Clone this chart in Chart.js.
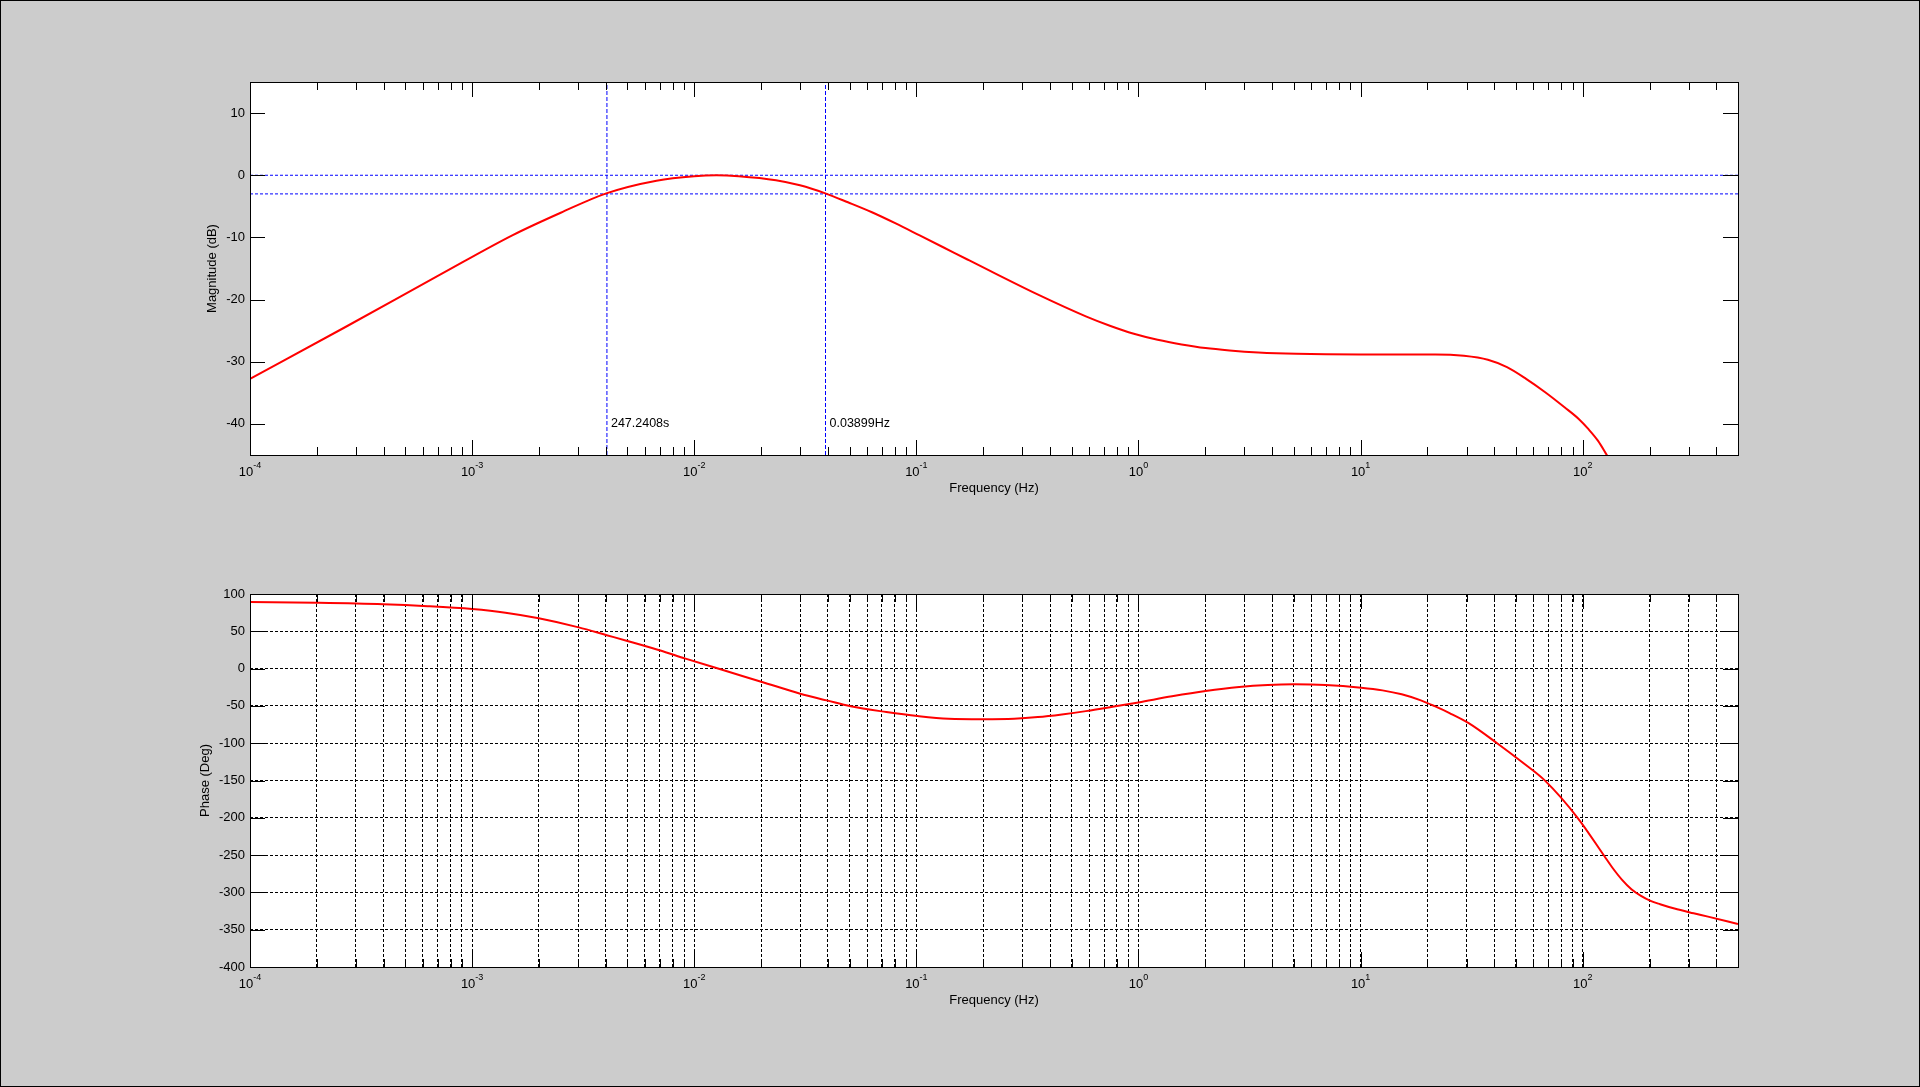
<!DOCTYPE html>
<html>
<head>
<meta charset="utf-8">
<title>Bode</title>
<script src="https://cdn.jsdelivr.net/npm/chart.js@4.4.1/dist/chart.umd.min.js"></script>
<style>
  html, body { margin: 0; padding: 0; background: #cccccc; }
  #fig { position: relative; width: 1920px; height: 1087px; overflow: hidden; }
  #fig canvas { position: absolute; left: 0; }
  #marco { position: absolute; left: 0; top: 0; width: 1920px; height: 1087px; box-sizing: border-box; border: 1px solid #000; pointer-events: none; }
</style>
</head>
<body>
<div id="fig">
  <canvas id="myChart" width="1920" height="540" style="top:0px"></canvas>
  <canvas id="myChart2" width="1920" height="547" style="top:540px"></canvas>
  <div id="marco"></div>
</div>
<script>
// datos
const freqMag = [0.0001, 0.000269, 0.000724, 0.001524, 0.002506, 0.004018, 0.006761, 0.01, 0.01259, 0.01585,
  0.02333, 0.02992, 0.0389, 0.0492, 0.0631, 0.08072, 0.1035, 0.1327, 0.1698, 0.2148, 0.3532, 0.5794, 0.743,
  0.9528, 1.219, 1.563, 2.004, 2.57, 3.459, 5.14, 10, 21.68, 29.17, 37.41, 45.6, 55.59, 67.76, 82.79, 95.94,
  105.9, 117, 129.1, 141.3];
const magDb = [-32.75, -24.41, -15.92, -9.63, -6.03, -2.91, -0.87, -0.15, 0.0, -0.15,
  -0.8, -1.62, -2.91, -4.35, -5.95, -7.75, -9.68, -11.62, -13.55, -15.38, -19.2, -22.69, -24.2,
  -25.49, -26.46, -27.21, -27.8, -28.18, -28.5, -28.72, -28.82, -28.82, -29.04, -29.68, -30.87, -32.75, -34.9, -37.32, -39.2,
  -40.81, -42.69, -45.16, -47.5];

const freqPhase = [0.0001, 0.0001995, 0.000398, 0.000631, 0.001, 0.001413, 0.001995, 0.00302,
  0.004036, 0.005047, 0.006966, 0.009141, 0.01324, 0.02018, 0.02999, 0.03945, 0.05058, 0.07328, 0.1012, 0.1396,
  0.1977, 0.2754, 0.3524, 0.4519, 0.5794, 0.7998, 1, 1.416, 2.004, 2.838, 3.819, 5.012, 6.934, 10.05, 12.55,
  15.31, 18.67, 21.67, 25.14, 30.66, 41.3, 52.9, 67.8, 95.0, 124.8, 135.8, 150.0, 165.6, 182.9, 202.0,
  223.0, 258.8, 315.6, 366.3, 500];
const phaseDeg = [89.3, 88.2, 86.2, 83.6, 79.8, 75.0, 67.5, 55.3,
  44.8, 36.7, 24.6, 13.4, -1.3, -17.9, -33.6, -42.6, -50.6, -58.2, -63.6, -67.2,
  -67.8, -67.2, -65.0, -61.4, -57.0, -50.2, -45.3, -37.2, -30.1, -24.7, -22.0, -21.1, -22.0, -25.6, -29.2,
  -34.5, -42.6, -50.7, -59.6, -73.1, -100.4, -124.6, -150.5, -200.3, -250.9, -266.6, -282.8, -295.7, -304.7, -311.4,
  -315.9, -321.7, -328.0, -332.5, -342.3];

const magTicks = [-40, -30, -20, -10, 0, 10];
const phaseTicks = [-400, -350, -300, -250, -200, -150, -100, -50, 0, 50, 100];
const decades = [-4, -3, -2, -1, 0, 1, 2];
const freqMin = 0.0001;
const freqMax = 500;

const cursorDb = [0, -3];
const cursorHz = [0.0040446, 0.03899];
const cursorText = ['247.2408s', '0.03899Hz'];
const cursorLabelDb = -40;

const fuente = "'Liberation Sans', Arial, sans-serif";

document.addEventListener('DOMContentLoaded', function() {
    const ctx = document.getElementById('myChart');
    const ctx2 = document.getElementById('myChart2');

    Chart.defaults.font.family = fuente;
    Chart.defaults.font.size = 13;
    Chart.defaults.color = '#000';

    function buildLogTicks(scale) {
        const ticks = [];
        decades.forEach(e => {
            for (let m = 1; m < 10; m++) {
                const v = m * Math.pow(10, e);
                if (v >= freqMin && v <= freqMax) ticks.push({ value: v, major: m === 1 });
            }
        });
        scale.ticks = ticks;
    }

    // fondo blanco, marco, ticks hacia dentro y etiquetas 10^n al estilo matlab
    const ejesPlugin = {
        id: 'ejes',
        beforeDraw(chart) {
            const a = chart.chartArea;
            chart.ctx.save();
            chart.ctx.fillStyle = '#ffffff';
            chart.ctx.fillRect(a.left, a.top, a.right - a.left, a.bottom - a.top);
            chart.ctx.restore();
        },
        afterDraw(chart) {
            const c = chart.ctx;
            const a = chart.chartArea;
            const sx = chart.scales.x;
            const sy = chart.scales.y;
            c.save();
            c.setLineDash([]);
            c.strokeStyle = '#000';
            c.lineWidth = 1;
            c.beginPath();
            sx.ticks.forEach(t => {
                const px = Math.round(sx.getPixelForValue(t.value)) + 0.5;
                const len = t.major ? 15 : 8;
                c.moveTo(px, a.bottom); c.lineTo(px, a.bottom - len);
                c.moveTo(px, a.top); c.lineTo(px, a.top + len);
            });
            sy.ticks.forEach(t => {
                const py = Math.round(sy.getPixelForValue(t.value)) + 0.5;
                c.moveTo(a.left, py); c.lineTo(a.left + 15, py);
                c.moveTo(a.right, py); c.lineTo(a.right - 15, py);
            });
            c.stroke();
            c.strokeRect(a.left + 0.5, a.top + 0.5, a.right - a.left, a.bottom - a.top);

            c.fillStyle = '#000';
            c.textAlign = 'left';
            c.textBaseline = 'alphabetic';
            decades.forEach(e => {
                const px = sx.getPixelForValue(Math.pow(10, e));
                const exp = String(e);
                c.font = '13px ' + fuente;
                const w1 = c.measureText('10').width;
                c.font = '9px ' + fuente;
                const w2 = c.measureText(exp).width;
                const x0 = px - (w1 + w2) / 2;
                c.font = '13px ' + fuente;
                c.fillText('10', x0, a.bottom + 21);
                c.font = '9px ' + fuente;
                c.fillText(exp, x0 + w1, a.bottom + 13);
            });
            c.restore();
        }
    };

    const cursorPlugin = {
        id: 'cursores',
        afterDatasetsDraw(chart) {
            const c = chart.ctx;
            const sx = chart.scales.x;
            const sy = chart.scales.y;
            c.save();
            c.font = '12.5px ' + fuente;
            c.fillStyle = '#000';
            c.textAlign = 'left';
            c.textBaseline = 'middle';
            cursorHz.forEach((f, i) => {
                c.fillText(cursorText[i], sx.getPixelForValue(f) + 4, sy.getPixelForValue(cursorLabelDb));
            });
            c.restore();
        }
    };

    function xAxis(conGrid, titlePad) {
        return {
            type: 'logarithmic',
            min: freqMin,
            max: freqMax,
            afterBuildTicks: buildLogTicks,
            afterFit: s => { s.height = 50; },
            ticks: { display: false },
            grid: { display: conGrid, color: '#000', lineWidth: 1, drawTicks: false },
            border: { display: false, dash: [3, 2] },
            title: { display: true, text: 'Frequency (Hz)', color: '#000', font: { size: 13 }, padding: { top: 0, bottom: titlePad } }
        };
    }

    function loadChar1() {
        const lineas = [{
            data: freqMag.map((f, i) => ({ x: f, y: magDb[i] })),
            borderColor: '#ff0000',
            borderWidth: 2,
            pointRadius: 0,
            cubicInterpolationMode: 'monotone',
            clip: 0
        }];
        cursorDb.forEach(db => {
            lineas.push({
                data: [{ x: freqMin, y: db }, { x: freqMax, y: db }],
                borderColor: '#0000ff', borderWidth: 1, borderDash: [3, 2], pointRadius: 0, clip: 0
            });
        });
        cursorHz.forEach(f => {
            lineas.push({
                data: [{ x: f, y: -45 }, { x: f, y: 15 }],
                borderColor: '#0000ff', borderWidth: 1, borderDash: [4, 2], pointRadius: 0, clip: 0
            });
        });

        new Chart(ctx, {
            type: 'line',
            data: { datasets: lineas },
            options: {
                responsive: false,
                animation: false,
                events: [],
                devicePixelRatio: 1,
                layout: { padding: { left: 190, right: 182, top: 82, bottom: 35 } },
                plugins: { legend: { display: false }, tooltip: { enabled: false } },
                scales: {
                    x: xAxis(false, 8.5),
                    y: {
                        min: -45,
                        max: 15,
                        afterBuildTicks: s => { s.ticks = magTicks.map(v => ({ value: v })); },
                        afterFit: s => { s.width = 60; },
                        ticks: { color: '#000', padding: 5 },
                        grid: { display: false, drawTicks: false },
                        border: { display: false },
                        title: { display: true, text: 'Magnitude (dB)', color: '#000', font: { size: 13 }, padding: { top: 14.2, bottom: 0 } }
                    }
                }
            },
            plugins: [cursorPlugin, ejesPlugin]
        });
    }

    function loadChar2() {
        new Chart(ctx2, {
            type: 'line',
            data: {
                datasets: [{
                    data: freqPhase.map((f, i) => ({ x: f, y: phaseDeg[i] })),
                    borderColor: '#ff0000',
                    borderWidth: 2,
                    pointRadius: 0,
                    cubicInterpolationMode: 'monotone',
                    clip: 0
                }]
            },
            options: {
                responsive: false,
                animation: false,
                events: [],
                devicePixelRatio: 1,
                layout: { padding: { left: 190, right: 182, top: 54, bottom: 70 } },
                plugins: { legend: { display: false }, tooltip: { enabled: false } },
                scales: {
                    x: xAxis(true, 8.5),
                    y: {
                        min: -400,
                        max: 100,
                        afterBuildTicks: s => { s.ticks = phaseTicks.map(v => ({ value: v })); },
                        afterFit: s => { s.width = 60; },
                        ticks: { color: '#000', padding: 5 },
                        grid: { display: true, color: '#000', lineWidth: 1, drawTicks: false },
                        border: { display: false, dash: [3, 2] },
                        title: { display: true, text: 'Phase (Deg)', color: '#000', font: { size: 13 }, padding: { top: 8, bottom: 0 } }
                    }
                }
            },
            plugins: [ejesPlugin]
        });
    }

    loadChar1();
    loadChar2();
});
</script>
</body>
</html>
